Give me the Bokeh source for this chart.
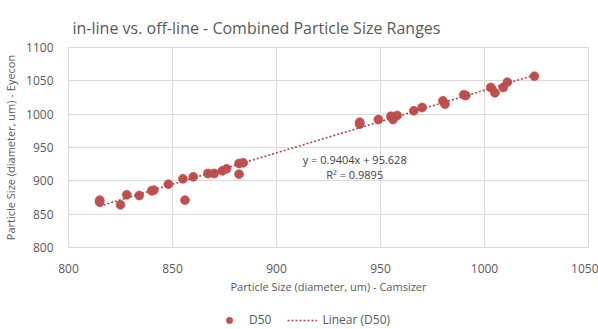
from bokeh.plotting import figure
from bokeh.layouts import column
from bokeh.models import Legend, LegendItem, Label, Range1d, FixedTicker
from bokeh.embed import file_html
from bokeh.resources import INLINE

# Data
camsizer = [815, 815, 825, 828, 834, 840, 841, 848, 855, 856, 860, 867, 870, 874, 876,
            882, 882, 884, 940, 940, 949, 955, 956, 958, 966, 970, 980, 981, 990, 991,
            1003, 1005, 1009, 1011, 1024]
eyecon = [871, 868, 864, 879, 878, 885, 886, 895, 903, 871, 906, 911, 911, 915, 918,
          926, 910, 927, 985, 988, 992, 997, 992, 998, 1005, 1010, 1020, 1015, 1029, 1028,
          1040, 1032, 1040, 1048, 1057]
slope = 0.9404
intercept = 95.628
r_squared = 0.9895
x_ticks = [800, 850, 900, 950, 1000, 1050]
y_ticks = [800, 850, 900, 950, 1000, 1050, 1100]

FONT = "Open Sans"
GREY = "#595959"
RED = "#c0504d"
LINE_RED = "#b5454a"

p = figure(width=598, height=296, output_backend="svg", toolbar_location=None,
           x_range=Range1d(800, 1050), y_range=Range1d(800, 1100),
           min_border_left=63, min_border_right=10, min_border_top=47,
           min_border_bottom=47)

p.title.text = "in-line vs. off-line - Combined Particle Size Ranges"
p.title.text_font = FONT
p.title.text_font_size = "16px"
p.title.text_font_style = "normal"
p.title.text_color = GREY
p.title.align = "left"
p.title.offset = 4
p.title.standoff = 18

p.outline_line_color = "#d9d9d9"
p.background_fill_color = "white"

for ax, ticks, lab in ((p.xaxis, x_ticks, "Particle Size (diameter, um) - Camsizer"),
                       (p.yaxis, y_ticks, "Particle Size (diameter, um) - Eyecon")):
    ax.ticker = FixedTicker(ticks=ticks)
    ax.axis_label = lab
    ax.axis_label_text_font = FONT
    ax.axis_label_text_font_size = "11px"
    ax.axis_label_text_font_style = "normal"
    ax.axis_label_text_color = GREY
    ax.major_label_text_font = FONT
    ax.major_label_text_font_size = "12px"
    ax.major_label_text_color = GREY
    ax.axis_line_color = None
    ax.major_tick_line_color = None
    ax.minor_tick_line_color = None

p.xaxis.major_label_standoff = 10
p.xaxis.axis_label_standoff = 3
p.yaxis.major_label_standoff = 9
p.yaxis.axis_label_standoff = 5

p.xgrid.ticker = FixedTicker(ticks=x_ticks)
p.ygrid.ticker = FixedTicker(ticks=y_ticks)
p.xgrid.grid_line_color = "#d9d9d9"
p.ygrid.grid_line_color = "#d9d9d9"

p.scatter(camsizer, eyecon, size=9, fill_color=RED, line_color=RED, line_alpha=0.6)

fit_x = [min(camsizer), max(camsizer)]
fit_y = [slope * v + intercept for v in fit_x]
p.line(fit_x, fit_y, line_color=LINE_RED, line_width=1.6, line_dash="2 2")

p.add_layout(Label(x=937.6, y=932, text=f"y = {slope}x + {intercept}", text_align="center",
                   text_baseline="middle", text_font=FONT, text_font_size="11px",
                   text_color="#404040"))
p.add_layout(Label(x=937.6, y=910, text=f"R\u00b2 = {r_squared}", text_align="center",
                   text_baseline="middle", text_font=FONT, text_font_size="11px",
                   text_color="#404040"))

# Legend strip below the chart (its renderers use the same data, outside its view)
lg = figure(width=598, height=33, output_backend="svg", toolbar_location=None,
            x_range=Range1d(0, 1), y_range=Range1d(0, 1),
            min_border_left=0, min_border_right=0, min_border_top=0, min_border_bottom=0,
            x_axis_location=None, y_axis_location=None)
lg.xgrid.visible = False
lg.ygrid.visible = False
lg.outline_line_color = None
lg_pts = lg.scatter(camsizer, eyecon, size=9, fill_color=RED, line_color=RED, line_alpha=0.6)
lg_fit = lg.line(fit_x, fit_y, line_color=LINE_RED, line_width=1.6, line_dash="2 2")

legend = Legend(items=[LegendItem(label="D50", renderers=[lg_pts]),
                       LegendItem(label="Linear (D50)", renderers=[lg_fit])],
                orientation="horizontal", location=(146, 1),
                border_line_color=None, background_fill_alpha=0,
                label_text_font=FONT, label_text_font_size="12px",
                label_text_color=GREY, glyph_width=30, glyph_height=16,
                label_standoff=5, spacing=16, padding=0, margin=0)
lg.add_layout(legend, "center")

layout = column(p, lg, spacing=0)
open("out.html", "w").write(file_html(layout, INLINE))
